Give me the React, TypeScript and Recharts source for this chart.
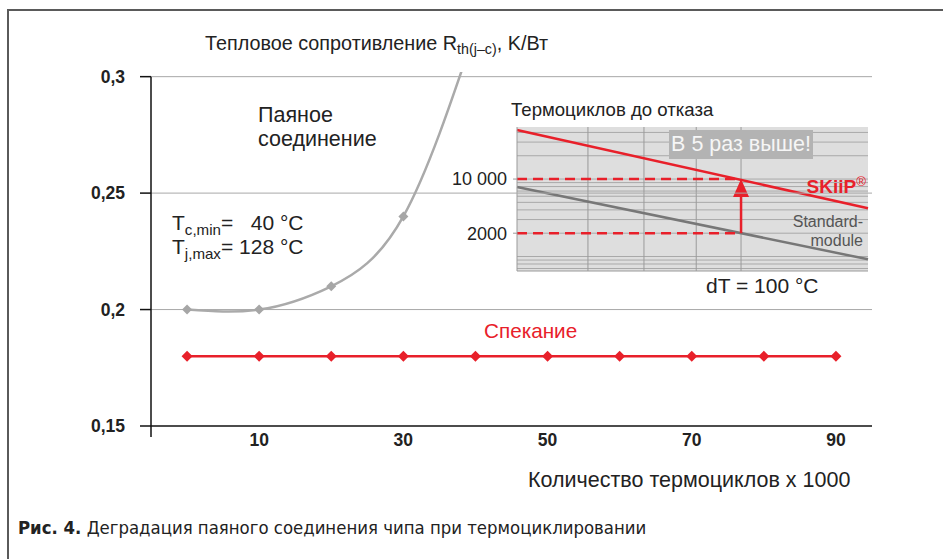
import {
  ComposedChart,
  Line,
  LineChart,
  ReferenceArea,
  ReferenceDot,
  ReferenceLine,
  CartesianGrid,
  XAxis,
  YAxis,
} from "recharts";

// main chart: thermal resistance vs thousands of thermal cycles
const cycles = [0, 10, 20, 30, 40, 50, 60, 70, 80, 90];
const solderRth = [0.2, 0.2, 0.21, 0.24, 0.32]; // last point runs off the top
const sinterRth = [0.18, 0.18, 0.18, 0.18, 0.18, 0.18, 0.18, 0.18, 0.18, 0.18];
const yTicks = [0.15, 0.2, 0.25, 0.3];
const xTicks = [10, 30, 50, 70, 90];

// inset: cycles to failure (log) vs dT
const insetDT = [40, 134];
const skiipLife = [43000, 4200];
const standardLife = [7900, 920];
const insetYTicks = [2000, 10000];
const insetMinor = [
  700, 800, 900, 1000, 2000, 3000, 4000, 5000, 6000, 7000, 8000, 9000, 10000, 20000, 30000,
  40000,
];
const insetVert = [59, 74, 88, 100];

const FONT = '"Liberation Sans", Arial, sans-serif';
const RED = "#e8202a";

const rows = cycles.map((c, i) => ({ c, solder: solderRth[i], sinter: sinterRth[i] }));
const insetRows = insetDT.map((dt, i) => ({ dt, skiip: skiipLife[i], std: standardLife[i] }));

function diamond(color: string, r: number) {
  return (p: any) => {
    if (p.cx == null || p.cy == null) return <g key={p.index} />;
    const { cx, cy } = p;
    return (
      <path
        key={p.index}
        d={`M${cx},${cy - r}L${cx + r},${cy}L${cx},${cy + r}L${cx - r},${cy}Z`}
        fill={color}
      />
    );
  };
}

const txt = (left: number, cy: number, fs: number, extra: any = {}) => ({
  position: "absolute" as const,
  left,
  top: cy - fs * 0.55,
  fontSize: fs,
  lineHeight: `${fs}px`,
  fontFamily: FONT,
  color: "#222",
  whiteSpace: "pre" as const,
  ...extra,
});

const sub = { fontSize: "0.72em", verticalAlign: "-0.3em" };

export default function App() {
  return (
    <div
      style={{
        position: "absolute",
        left: 0,
        top: 0,
        width: 943,
        height: 559,
        background: "#fff",
        overflow: "hidden",
      }}
    >
      {/* frame */}
      <div style={{ position: "absolute", left: 7, top: 9, width: 940, height: 2, background: "#5a5a5a" }} />
      <div style={{ position: "absolute", left: 7, top: 9, width: 2, height: 560, background: "#5a5a5a" }} />

      {/* inset drawn below main svg so the 0,25 gridline crosses it */}
      <div style={{ position: "absolute", left: 420, top: 100 }}>
        <ComposedChart
          width={470}
          height={200}
          data={insetRows}
          margin={{ top: 27, right: 22, bottom: 19, left: 17 }}
        >
          <XAxis
            dataKey="dt"
            type="number"
            domain={[40, 134]}
            ticks={insetVert}
            tick={false}
            tickSize={5}
            height={10}
            axisLine={{ stroke: "#9a9a9a" }}
            tickLine={{ stroke: "#9a9a9a" }}
          />
          <YAxis
            scale="log"
            domain={[650, 47000]}
            allowDataOverflow
            ticks={insetYTicks}
            width={80}
            tickSize={4}
            tickMargin={6}
            tickFormatter={(v: number) => (v === 10000 ? "10 000" : String(v))}
            tick={{ fontSize: 18, fill: "#222", fontFamily: FONT }}
            axisLine={{ stroke: "#9a9a9a" }}
            tickLine={{ stroke: "#9a9a9a" }}
          />
          <ReferenceArea x1={40} x2={134} y1={650} y2={47000} fill="#dedede" fillOpacity={1} stroke="none" />
          {insetMinor.map((v) => (
            <ReferenceLine key={"h" + v} y={v} stroke="#a9a9a9" strokeWidth={1} />
          ))}
          {insetVert.map((v) => (
            <ReferenceLine key={"v" + v} x={v} stroke="#9a9a9a" strokeWidth={1} />
          ))}
          <Line
            dataKey="std"
            stroke="#777"
            strokeWidth={2.5}
            dot={false}
            isAnimationActive={false}
          />
          <Line
            dataKey="skiip"
            stroke={RED}
            strokeWidth={2.5}
            dot={false}
            isAnimationActive={false}
          />
          <ReferenceLine
            segment={[
              { x: 40, y: 10000 },
              { x: 100, y: 10000 },
            ]}
            stroke={RED}
            strokeWidth={2.5}
            strokeDasharray="10 6"
          />
          <ReferenceLine
            segment={[
              { x: 40, y: 2000 },
              { x: 100, y: 2000 },
            ]}
            stroke={RED}
            strokeWidth={2.5}
            strokeDasharray="10 6"
          />
          <ReferenceLine
            segment={[
              { x: 100, y: 2000 },
              { x: 100, y: 8000 },
            ]}
            stroke={RED}
            strokeWidth={2.5}
          />
          <ReferenceDot
            x={100}
            y={10000}
            shape={(p: any) => (
              <path
                d={`M${p.cx},${p.cy}L${p.cx + 8},${p.cy + 18}L${p.cx - 8},${p.cy + 18}Z`}
                fill={RED}
              />
            )}
          />
        </ComposedChart>
      </div>

      <div style={{ position: "absolute", left: 0, top: 0 }}>
        <LineChart
          width={943}
          height={559}
          data={rows}
          margin={{ top: 72, right: 71, bottom: 103, left: 91 }}
        >
          <CartesianGrid vertical={false} stroke="#a8a8a8" horizontalValues={[0.2, 0.25, 0.3]} />
          <XAxis
            dataKey="c"
            type="number"
            domain={[-5, 95]}
            ticks={xTicks}
            height={30}
            tickLine={false}
            tickSize={0}
            tickMargin={8}
            axisLine={{ stroke: "#111", strokeWidth: 1.5 }}
            tick={{ fontSize: 17.5, fontWeight: "bold", fill: "#222", fontFamily: FONT }}
          />
          <YAxis
            type="number"
            domain={[0.15, 0.302]}
            allowDataOverflow
            ticks={yTicks}
            width={60}
            tickSize={11}
            tickMargin={15}
            axisLine={false}
            tickLine={{ stroke: "#111", strokeWidth: 1.5 }}
            tickFormatter={(v: number) => String(v).replace(".", ",")}
            tick={{ fontSize: 17.5, fontWeight: "bold", fill: "#222", fontFamily: FONT }}
          />
          <ReferenceLine
            segment={[
              { x: -5, y: 0.1453 },
              { x: -5, y: 0.3 },
            ]}
            stroke="#111"
            strokeWidth={1.5}
            ifOverflow="visible"
          />
          <Line
            dataKey="solder"
            type="natural"
            stroke="#aaaaaa"
            strokeWidth={2.5}
            dot={diamond("#a6a6a6", 5)}
            activeDot={false}
            isAnimationActive={false}
          />
          <Line
            dataKey="sinter"
            type="linear"
            stroke={RED}
            strokeWidth={2.5}
            dot={diamond(RED, 5.5)}
            activeDot={false}
            isAnimationActive={false}
          />
        </LineChart>
      </div>

      {/* labels */}
      <div style={txt(205, 45, 19.8)}>
        Тепловое сопротивление R<span style={sub}>th(j–c)</span>, K/Вт
      </div>
      <div style={txt(258, 117, 21.5)}>Паяное</div>
      <div style={txt(258, 141, 21.5)}>соединение</div>
      <div style={txt(172, 224, 21)}>
        T<span style={sub}>c,min</span>=   40 °C
      </div>
      <div style={txt(172, 248, 21)}>
        T<span style={sub}>j,max</span>= 128 °C
      </div>
      <div style={txt(484, 332, 20.7)}>
        <span style={{ color: RED }}>Спекание</span>
      </div>
      <div style={txt(528, 482, 21.5)}>Количество термоциклов x 1000</div>
      <div style={txt(18, 529, 18.4, { fontFamily: '"Liberation Sans Narrow", "DejaVu Sans Condensed", sans-serif' })}>
        <b>Рис. 4.</b> Деградация паяного соединения чипа при термоциклировании
      </div>

      {/* inset labels */}
      <div style={txt(511, 111, 18.6)}>Термоциклов до отказа</div>
      <div
        style={{
          position: "absolute",
          left: 669,
          top: 130,
          width: 144,
          height: 29,
          background: "#b3b3b3",
          color: "#f6f6f6",
          fontFamily: FONT,
          fontSize: 21.5,
          lineHeight: "29px",
          textAlign: "center",
        }}
      >
        В 5 раз выше!
      </div>
      <div style={txt(0, 182, 19, { width: 866, textAlign: "right", color: RED, fontWeight: "bold" })}>
        SKiiP<span style={{ fontSize: "0.7em", verticalAlign: "0.5em", fontWeight: "normal" }}>®</span>
      </div>
      <div style={txt(0, 223, 16, { width: 863, textAlign: "right", color: "#555" })}>Standard-</div>
      <div style={txt(0, 242, 16, { width: 863, textAlign: "right", color: "#555" })}>module</div>
      <div style={txt(706, 287, 21)}>dT = 100 °C</div>
    </div>
  );
}
